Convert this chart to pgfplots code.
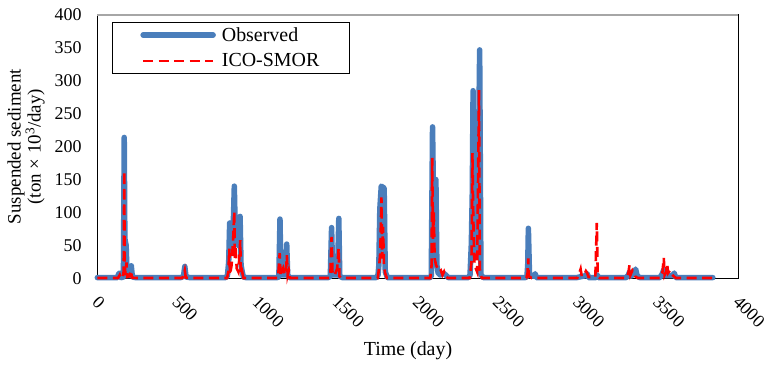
\documentclass[border=0pt]{standalone}
\usepackage{fontspec}
\setmainfont{Liberation Serif}
\usepackage{pgfplots}
\pgfplotsset{compat=1.18}
\definecolor{obsblue}{RGB}{74,126,187}
\begin{document}
\begin{tikzpicture}
\begin{axis}[
  name=ax,
  scale only axis,
  width=641bp, height=263.3bp,
  xmin=0, xmax=4000, ymin=0, ymax=400,
  xtick={0,500,...,4000}, ytick={0,50,...,400},
  major tick length=0pt,
  clip=false,
  axis line style={black, line width=1.3bp},
  /pgf/number format/assume math mode=true,
  /pgf/number format/1000 sep={},
  tick label style={font=\fontsize{18}{20}\selectfont},
  xticklabel style={yshift=-16bp, xshift=2.5bp, rotate=-45, anchor=north west, inner sep=0pt},
  yticklabel style={anchor=east, inner sep=0pt, xshift=-15.5bp},
  xlabel={Time (day)},
  xlabel style={at={(axis description cs:0.4847,-0.277)}, anchor=center, font=\fontsize{20}{22}\selectfont},
  ylabel={Suspended sediment\\(ton × 10\textsuperscript{3}/day)},
  ylabel style={at={(axis description cs:-0.0765,0.5)}, anchor=south, align=center, font=\fontsize{19}{16}\selectfont},
  legend style={at={(axis description cs:0.0225,0.9745)}, anchor=north west, draw=black, line width=1.3bp,
    font=\fontsize{20}{22}\selectfont, inner xsep=28bp, inner ysep=3bp, column sep=4bp,
    nodes={inner sep=2bp}, row sep=7bp},
  legend cell align=left,
  legend image code/.code={\draw[#1] (0bp,0bp) -- (70bp,0bp);},
]
\addplot[obsblue, line width=5.5bp, line cap=round, line join=round] coordinates {
(0,1)(125,1)(134,7)(142,8)(148,1)(163,2)(168,214)(172,60)(180,50)(186,4)(204,4)(212,19)(219,2)(240,1)
(520,1)(538,3)(546,18)(554,2)(580,1)
(800,1)(812,4)(820,25)(826,84)(832,40)(845,50)(855,140)(862,60)(880,50)(891,94)(897,20)(905,9)(912,2)(930,1)
(1120,1)(1133,2)(1140,90)(1146,5)(1175,5)(1182,52)(1188,5)(1200,1)
(1440,1)(1454,3)(1462,77)(1469,5)(1499,5)(1507,91)(1513,3)(1530,1)
(1740,1)(1752,5)(1757,20)(1763,105)(1772,140)(1790,137)(1797,10)(1810,1)
(2075,1)(2084,3)(2092,230)(2100,85)(2113,150)(2119,20)(2127,8)(2140,5)(2158,8)(2175,5)(2190,1)
(2315,1)(2326,5)(2334,52)(2340,130)(2345,285)(2352,40)(2372,40)(2386,347)(2394,5)(2410,1)
(2670,1)(2681,3)(2686,20)(2690,76)(2697,5)(2724,3)(2732,7)(2740,1)
(2990,1)(3048,4)(3057,7)(3066,1)(3112,1)(3120,5)(3127,1)
(3300,1)(3314,5)(3322,10)(3330,3)(3350,8)(3359,14)(3369,4)(3385,1)
(3510,1)(3524,6)(3535,13)(3545,4)(3590,4)(3600,8)(3610,1)
(3841,1)
};
\addlegendentry{Observed}
\addplot[red, line width=2.6bp, dash pattern=on 10bp off 5.5bp] coordinates {
(0,0.5)(130,0.5)(140,5)(146,0.5)(160,1)(165,12)(168,163)(171,20)(176,5)(182,24)(186,2)(200,3)(210,12)(216,1)(240,0.5)
(530,0.5)(538,4)(546,12)(552,1)(570,0.5)
(810,0.5)(818,10)(824,45)(828,5)(838,20)(848,60)(855,102)(858,30)(862,50)(870,15)(880,10)(886,30)(892,58)(896,5)(904,10)(912,0.5)
(1128,0.5)(1138,38)(1144,3)(1150,8)(1160,15)(1170,5)(1177,10)(1183,35)(1188,5)(1195,12)(1202,0.5)
(1448,0.5)(1455,10)(1462,63)(1468,5)(1482,5)(1497,15)(1506,46)(1511,3)(1520,0.5)
(1750,0.5)(1758,15)(1766,40)(1773,123)(1777,30)(1783,78)(1789,20)(1796,8)(1806,0.5)
(2078,0.5)(2086,20)(2090,183)(2095,60)(2100,100)(2105,30)(2114,20)(2124,15)(2134,10)(2144,12)(2154,5)(2164,10)(2174,3)(2186,0.5)
(2325,0.5)(2335,25)(2341,190)(2345,110)(2349,60)(2354,20)(2370,10)(2382,286)(2387,15)(2392,5)(2400,0.5)
(2678,0.5)(2685,8)(2689,30)(2693,3)(2710,0.5)
(2995,0.5)(3008,8)(3016,14)(3023,3)(3038,5)(3049,11)(3057,8)(3065,2)(3108,2)(3117,84)(3123,3)(3135,0.5)
(3303,0.5)(3314,8)(3321,20)(3327,5)(3339,12)(3349,8)(3357,3)(3370,0.5)
(3513,0.5)(3527,10)(3535,31)(3540,5)(3549,10)(3556,22)(3562,8)(3574,12)(3584,6)(3598,3)(3610,0.5)
(3841,0.5)
};
\addlegendentry{ICO-SMOR}
\end{axis}
\draw[gray!70, line width=1.3bp] (ax.north west) -- (ax.north east);
\pgfresetboundingbox
\path ([xshift=-97.3bp, yshift=-89.7bp]ax.south west) rectangle ([xshift=29.7bp, yshift=15bp]ax.north east);
\end{tikzpicture}
\end{document}
